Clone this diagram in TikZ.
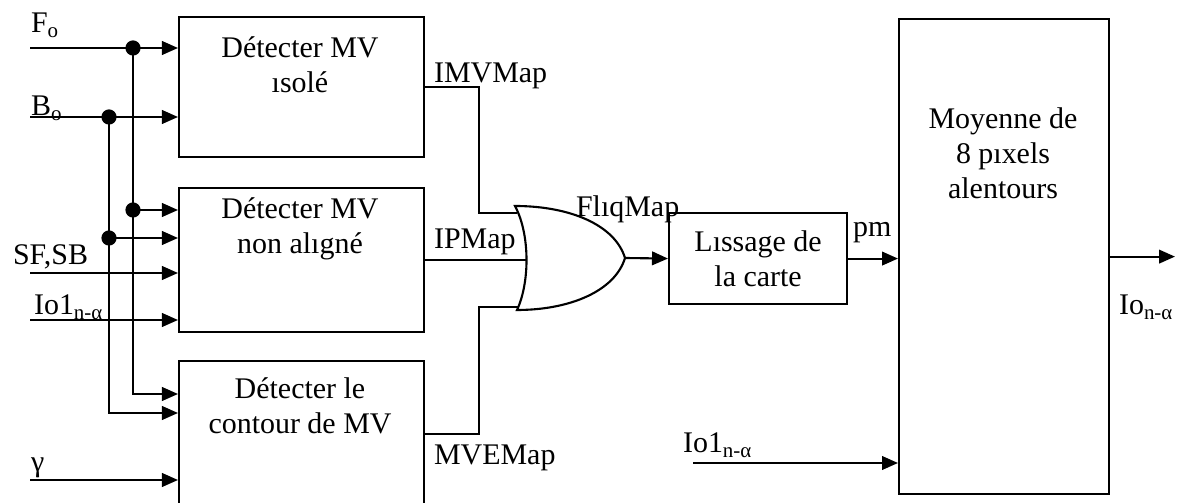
\documentclass[tikz,border=0pt]{standalone}
\usepackage{fontspec}
\setmainfont{Liberation Serif}
\usetikzlibrary{arrows.meta, positioning, calc}

\begin{document}
\begin{tikzpicture}[
  x=0.025cm, y=-0.025cm,
  line width=1.5pt,
  font=\fontsize{21.3}{25}\selectfont,
  bloc/.style={
    draw, line width=1.5pt, inner sep=0pt, anchor=north west, align=center
  },
  lbl/.style={inner sep=0pt, anchor=base west},
  txt/.style={inner sep=0pt, align=center},
  sig/.style={-{Triangle[length=0.4cm, width=0.34cm]}},
  jdot/.style={circle, fill, inner sep=0pt, minimum size=0.38cm}
]
  \useasboundingbox (0,0) rectangle (1180,503);

  % blocs
  \node[bloc, minimum width=6.125cm, minimum height=3.5cm] (iso) at (178,16) {};
  \node[bloc, minimum width=6.125cm, minimum height=3.6cm] (nal) at (178,187) {};
  \node[bloc, minimum width=6.125cm, minimum height=3.625cm] (cont) at (178,360) {};
  \node[bloc, minimum width=4.45cm, minimum height=2.275cm] (liss) at (668,212)
    {Lıssage de\\la carte};
  \node[bloc, minimum width=5.25cm, minimum height=11.875cm] (moy) at (898,18) {};

  \node[txt] (iso-t) at (300,65) {Détecter MV\\ısolé};
  \node[txt] (nal-t) at (300,229) {Détecter MV\\non alıgné};
  \node[txt] (cont-t) at (300,406) {Détecter le\\contour de MV};
  \node[txt] (moy-t) at (1003,153) {Moyenne de\\8 pıxels\\alentours};

  % entrees
  \coordinate (fo) at (30,48);
  \coordinate (bo) at (30,117);
  \coordinate (sfsb) at (30,273);
  \coordinate (io1) at (30,320);
  \coordinate (gam) at (30,480);
  \node[jdot] (jf) at (133,48) {};
  \node[jdot] (jb) at (109,117) {};
  \node[jdot] (jf2) at (133,210) {};
  \node[jdot] (jb2) at (109,238) {};
  \coordinate (jf3) at (133,394);
  \coordinate (jb3) at (109,413);

  \draw[sig] (fo) -- (fo -| iso.west);
  \draw[sig] (bo) -- (bo -| iso.west);
  \draw[sig] (sfsb) -- (sfsb -| nal.west);
  \draw[sig] (io1) -- (io1 -| nal.west);
  \draw[sig] (gam) -- (gam -| cont.west);
  \draw[sig] (jf2.center) -- (jf2 -| nal.west);
  \draw[sig] (jb2.center) -- (jb2 -| nal.west);
  \draw[sig] (jf.center) |- (jf3 -| cont.west);
  \draw[sig] (jb.center) |- (jb3 -| cont.west);

  \node[lbl] (fo-l) at (30,33) {F\textsubscript{o}};
  \node[lbl] (bo-l) at (30,116) {B\textsubscript{o}};
  \node[lbl] (sfsb-l) at (12,265) {SF,SB};
  \node[lbl] (io1-l) at (33,315) {Io1\textsubscript{n-α}};
  \node[lbl] (gam-l) at (30,472) {γ};

  % porte OU
  \coordinate (or-t) at (515,206);
  \coordinate (or-b) at (517,310);
  \coordinate (or-o) at (625,258);
  \coordinate (or-i1) at (517,213);
  \coordinate (or-i2) at (527,258);
  \coordinate (or-i3) at (518,307);
  \draw (or-t) .. controls (570,206) and (615,225) .. (or-o)
    .. controls (615,291) and (570,310) .. (or-b)
    .. controls (530,282) and (530,234) .. cycle;

  \coordinate (b1) at (479,213);
  \coordinate (b3) at (479,307);
  \draw (iso.east) -| (b1) -- (or-i1);
  \draw (nal.east) -- (nal.east -| or-i2);
  \draw (cont.east) -| (b3) -- (or-i3);
  \draw[sig] (or-o) -- (liss.west);

  \node[lbl] (imv-l) at (433,83) {IMVMap};
  \node[lbl] (ip-l) at (433,249) {IPMap};
  \node[lbl] (mve-l) at (433,465) {MVEMap};
  \node[lbl] (fliq-l) at (575,217) {FlıqMap};

  % sortie
  \coordinate (out) at (1175,256);
  \coordinate (io1b) at (693,463);
  \draw[sig] (liss.east) -- (liss.east -| moy.west);
  \draw[sig] (moy.east) -- (moy.east -| out);
  \draw[sig] (io1b) -- (io1b -| moy.west);

  \node[lbl] (pm-l) at (852,237) {pm};
  \node[lbl] (out-l) at (1118,315) {Io\textsubscript{n-α}};
  \node[lbl] (io1b-l) at (682,453) {Io1\textsubscript{n-α}};
\end{tikzpicture}
\end{document}
